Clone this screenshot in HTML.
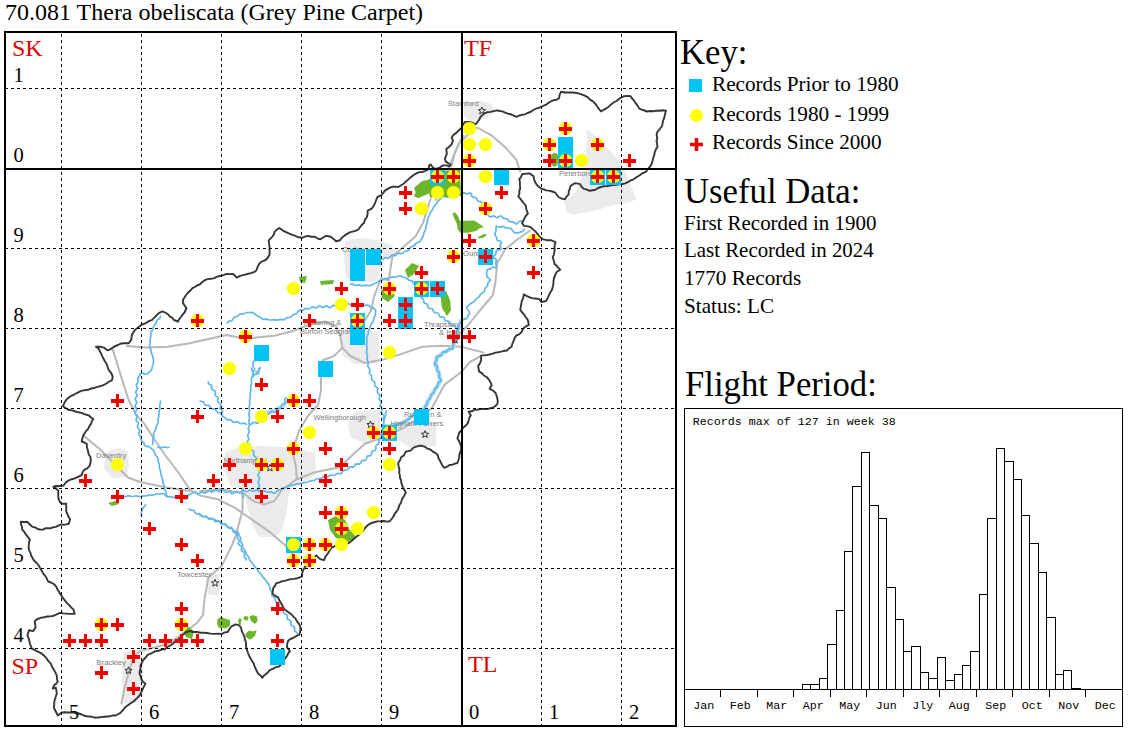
<!DOCTYPE html>
<html><head><meta charset="utf-8">
<style>
html,body{margin:0;padding:0;background:#fff;width:1130px;height:733px;overflow:hidden;}
body{position:relative;font-family:"Liberation Serif",serif;color:#000;}
.t{position:absolute;white-space:nowrap;line-height:1;}
.h{font-size:36px;transform:scaleX(0.964);transform-origin:0 0;}
.p{font-size:20.3px;transform:scaleX(1.045);transform-origin:0 0;}
svg{position:absolute;left:0;top:0;}
</style></head>
<body>
<svg width="1130" height="733" viewBox="0 0 1130 733">
<g fill="#ebebeb" stroke="none">
<path d="M464 103 L480 101 L492 104 L494 113 L484 119 L470 122 L464 115Z"/>
<path d="M587.5 129.6 L597.3 137.8 L610.4 150.9 L621.9 164 L626.8 175.5 L631.7 188.6 L636.6 198.4 L631.7 201.7 L613.7 205 L597.3 209.9 L572.7 214.8 L566.2 211.5 L564.6 201.7 L576 191.9 L580.9 178.8 L585.8 164 L586.7 142.7 L586.7 131.3Z"/>
<path d="M345 242 L352 239 L362 238 L378 240 L390 244 L395 249 L392 256 L383 262 L380 272 L376 281 L360 282 L346 278 L344 260Z"/>
<path d="M342 330 L360 327.7 L378 332 L380 350 L376 364 L355 364 L342 355Z"/>
<path d="M350 418 L356 411 L380 410 L381 440 L366 444 L350 437 L348 425Z"/>
<path d="M398 428 L410 423 L436 423 L436 446 L410 447 L398 440Z"/>
<path d="M225 452 L240 447 L262 446 L280 447 L300 449 L315 453 L316 474 L305 482 L290 490 L288 500 L286 515 L282 530 L276 537 L259 537 L252 525 L247 505 L244 490 L230 486 L225 470Z"/>
<path d="M106 452 L118 448 L128 452 L129 466 L126 477 L112 478 L104 468Z"/>
<path d="M206 576 L218 574 L222 585 L218 596 L208 594Z"/>
<path d="M124 652 L137 650 L144 662 L142 690 L136 703 L124 703 L122 680Z"/>
</g>
<g fill="none" stroke="#b8b8b8" stroke-width="2" stroke-linejoin="round" stroke-linecap="round">
<path d="M451.6 166.3 L454.4 153.9 L459.2 143.4 L466.8 135.8 L477.3 127.5 L492 135.7 L506.8 148.8 L516.4 160 L520.2 171.5"/>
<path d="M529.8 230.7 L516.4 240.2 L504.9 249.8 L497.3 263.1 L495.4 282.2 L493 295 L478.2 312.5 L470.6 322 L463.9 329.7 L455 338"/>
<path d="M126.9 345.9 L146.4 347.6 L167.7 346.8 L188.2 343.5 L226.4 334.9 L245.5 338.7 L274.1 335.8 L293.2 331 L310 324.4 L325 322 L336 326 L340.2 335.5 L342.3 347.8 L350.5 356 L364.8 363.1 L381.2 360.1 L401.6 353.9 L422.1 346.7 L442.6 345.7 L461 346.7 L483.9 352.6"/>
<path d="M112.7 349.4 L118 366.3 L123.4 384 L128.7 400 L135.8 414.2 L143.9 423.3 L154 438.9 L165 455 L178 472 L190 489.7 L200 495.6 L217.7 499.2 L235.5 508.1 L253.2 520.5 L271 532.9 L285.2 545.3 L292.3 554.2"/>
<path d="M84.3 436.3 L99.9 449.2 L112.8 462.2 L128.4 477.7 L140 482 L166.4 487.6 L190 491"/>
<path d="M242.6 488.6 L242.6 509.8 L235.5 536.5 L231.3 546.8 L221.7 565.9 L208.4 577.4 L204.6 598.4 L203 614.8 L197.3 622.5 L187.7 630.1 L168.6 643.5 L155.3 647.3 L140 651.1 L134 656 L130 668 L124 690 L121.5 703.5"/>
<path d="M299.4 430 L292.3 451.3 L295.8 465.5 L296.7 477.9"/>
<path d="M299.4 430 L308.4 415.3 L318 405 L321 390 L321 379.3 L322.9 360.2 L334.1 356 L342.3 347.8"/>
<path d="M200 491.2 L221 489 L244.4 493.9 L253.2 501 L263.9 504.5 L274.5 501 L281.6 490.3 L295.8 479.7 L313.6 472.6 L340 467.3 L353.7 453.7 L365 443.8 L380.6 438.1 L403.3 428.2 L431.6 408.4 L444.6 384.6 L461 372.3 L470 362 L481 356"/>
<path d="M430.8 198.2 L427 209.7 L423.1 223 L415.5 236.4 L400.2 249.8 L392.6 255.5 L390.7 267 L388.8 280.3 L381.2 278.2 L374 296.6 L370.9 310.9 L362 325"/>
<path d="M463.4 135.7 L458 145 L452 160 L444 178 L436 200"/>
</g>
<g fill="none" stroke="#b4def4" stroke-width="4.5" stroke-linejoin="round" stroke-linecap="round">
<path d="M383.5 426 L389.1 426.8 L396 425 L403.3 422.6 L410 418 L417.4 411.2 L422.1 413.3 L426.2 405.1 L430.3 396.9 L434.4 390.8 L440.5 380.5 L438.5 372.3 L435.4 364.1 L436.4 358 L444.6 351.9 L452.8 347.8 L454.8 341.6 L456.9 331.4 L461 321.2"/>
<path d="M268 412 L276 410 L284 405 L287 399"/>
</g>
<g fill="none" stroke="#62b6ea" stroke-width="1.7" stroke-linejoin="round" stroke-linecap="round">
<path d="M112.8 495.9 L114.4 495.3 L115.9 495.6 L117.5 496.4 L119.0 496.5 L120.6 495.8 L122.2 495.5 L123.7 496.1 L125.3 496.6 L126.9 496.3 L128.4 495.8 L130.0 496.0 L131.7 496.5 L133.3 496.5 L135.0 496.0 L136.6 495.9 L138.3 496.4 L139.9 496.5 L141.6 496.1 L143.3 495.8 L145.1 495.9 L146.8 495.8 L148.5 495.3 L150.2 495.0 L152.0 495.1 L153.5 495.0 L155.0 494.5 L156.5 494.1 L158.0 494.0 L159.6 494.0 L161.1 493.8 L162.6 493.3 L164.3 494.3 L165.6 495.7 L167.2 496.7 L168.8 496.5 L170.4 496.6 L171.9 497.1 L173.4 497.4 L174.9 497.2 L176.5 497.0 L178.0 497.4 L179.4 498.2 L180.9 498.4 L182.6 498.2 L184.1 498.3 L185.5 499.2 L187.0 498.4 L187.7 497.0 L188.3 495.4 L189.5 494.5 L191.2 493.9 L192.3 492.9 L193.5 492.3 L195.2 492.0 L196.7 493.0 L198.3 493.7 L200.0 493.0 L201.5 491.9 L203.3 492.4 L205.1 493.1 L206.7 492.2 L208.2 490.9 L210.0 491.2 L211.7 492.2 L213.3 491.6 L214.8 490.2 L216.4 490.1 L218.1 491.3 L219.8 491.3 L221.3 489.8 L223.1 489.8 L224.3 491.2 L225.6 492.4 L227.4 492.0 L229.2 491.3 L230.6 492.2 L231.8 493.8 L233.6 493.4 L234.9 492.0 L236.4 491.4 L238.1 492.1 L239.7 492.6 L241.1 491.6 L242.5 490.4 L244.3 490.8 L246.1 491.7 L247.8 491.2 L249.5 490.0 L251.2 490.3 L253.0 491.1 L254.5 491.0 L256.1 490.2 L257.7 490.3 L259.2 491.2 L260.8 491.6 L262.3 491.0 L263.9 490.7 L265.4 491.3 L266.9 492.1 L268.4 492.2 L270.0 492.0 L271.5 492.1 L273.0 492.9 L274.4 493.3 L275.9 492.1 L277.2 491.0 L278.8 490.3 L280.3 489.7 L281.6 488.6 L283.1 487.9 L284.6 487.5 L286.2 487.2 L287.8 486.7 L289.2 485.9 L290.7 485.4 L292.3 485.1 L293.9 484.9 L295.4 484.4 L297.0 483.9 L298.6 483.8 L300.2 483.7 L301.8 483.3 L303.3 482.7 L304.9 482.5 L306.5 482.5 L308.0 482.1 L309.4 481.3 L310.8 480.7 L312.4 480.6 L314.0 480.4 L315.4 479.7 L316.7 478.9 L318.2 478.5 L319.9 478.6 L321.4 478.3 L322.7 477.3 L324.1 476.5 L325.8 476.7 L327.5 476.9 L329.0 476.0 L330.4 475.0 L332.0 475.0 L333.8 475.5 L335.3 475.0 L336.7 473.7 L338.3 473.3 L340.1 473.9 L341.7 473.3 L342.5 471.6 L343.5 470.3 L345.3 470.1 L347.1 470.0 L348.3 468.8 L349.4 467.0 L351.2 466.9 L353.2 467.3 L354.6 466.0 L355.6 464.2 L357.3 463.8 L359.5 464.1 L360.8 462.8 L361.6 460.8 L363.4 460.4 L365.5 460.3 L366.5 458.8 L366.9 456.7 L368.4 455.8 L370.6 455.6 L371.5 453.9 L371.9 451.7 L373.6 450.7 L375.6 450.1 L375.9 448.2 L375.7 446.3 L376.7 445.0 L378.3 444.1 L379.0 442.6 L378.9 440.8 L379.3 439.2 L380.8 438.2 L381.5 436.7 L381.2 435.0 L380.9 433.3 L381.6 431.9 L382.5 430.4 L382.7 428.9 L382.3 427.2 L382.5 425.6 L383.4 424.2 L383.9 422.7 L383.8 421.0 L383.9 419.3 L384.7 417.7 L385.4 416.2 L385.5 414.5 L385.6 412.8 L386.3 411.2 L385.7 412.6 L385.5 414.1 L385.4 415.6 L385.1 417.1 L384.5 418.5 L384.2 420.0"/>
<path d="M383.5 426.0 L385.4 425.9 L387.2 426.8 L389.1 427.1 L390.8 426.1 L392.5 425.7 L394.3 425.7 L396.0 425.2 L397.4 424.4 L398.9 423.8 L400.4 423.6 L401.9 423.3 L403.3 422.6 L404.5 421.5 L405.9 420.7 L407.4 420.0 L408.7 419.0 L409.9 417.9 L411.1 416.8 L412.6 415.8 L413.8 414.7 L414.8 413.4 L416.0 412.2 L417.5 411.3 L418.9 412.1 L420.6 412.5 L422.2 413.1 L422.8 412.0 L423.8 410.7 L424.2 409.2 L424.5 407.7 L425.3 406.4 L426.5 405.2 L427.2 403.9 L427.4 402.3 L427.8 400.8 L428.9 399.6 L430.1 398.5 L430.5 397.0 L430.8 395.1 L432.2 393.8 L433.9 392.7 L434.5 390.8 L434.6 389.0 L436.0 387.8 L437.7 386.8 L438.0 385.0 L438.1 383.0 L439.4 381.8 L441.2 380.9 L440.4 378.8 L438.9 377.4 L438.9 375.7 L439.7 373.7 L439.0 372.2 L437.1 370.9 L436.7 369.2 L437.4 367.1 L436.6 365.5 L434.6 364.4 L435.0 362.5 L436.5 361.1 L437.0 359.7 L436.2 358.0 L437.2 356.2 L439.2 356.1 L441.1 355.7 L441.8 353.9 L442.7 352.2 L444.6 351.9 L446.4 352.0 L447.5 350.9 L448.4 349.2 L449.8 348.6 L451.6 348.9 L453.1 348.5 L453.1 346.2 L453.1 344.5 L454.3 343.2 L455.5 341.8 L455.2 339.9 L454.9 338.1 L455.8 336.5 L456.8 334.9 L456.6 333.1 L456.4 331.3 L457.3 329.9 L458.4 328.6 L458.9 327.1 L459.0 325.5 L459.5 324.0 L460.6 322.7 L461.3 321.3 L462.4 320.4 L463.7 319.4 L465.3 318.9 L466.8 318.4 L467.7 316.6 L468.4 314.9 L469.6 313.4 L469.1 311.6 L468.1 310.1 L467.2 308.5 L466.8 306.7 L468.1 305.9 L469.3 304.8 L470.4 303.7 L471.8 302.9 L473.2 302.1 L474.5 301.1 L475.4 299.7 L476.7 298.5 L478.1 297.6 L479.3 296.4 L480.2 294.9 L481.4 293.7 L482.9 292.8 L484.1 291.7 L484.5 290.0 L485.1 288.4 L486.3 287.2 L487.4 286.0 L487.7 284.3 L488.0 282.6 L489.2 281.4 L490.5 280.3 L489.1 278.4 L487.4 277.4 L486.8 275.6 L486.5 273.7 L486.8 272.9 L486.7 271.1 L487.4 269.8 L489.0 268.9 L490.5 269.0 L492.0 267.5 L493.6 267.0 L495.6 267.8 L496.6 265.7 L495.7 263.5 L496.2 261.8 L496.5 260.1 L495.6 258.8 L493.6 258.1 L493.9 255.8 L495.8 254.3 L496.0 252.4 L496.4 250.6 L497.8 249.8 L500.0 249.8 L501.3 248.8 L500.2 246.4 L500.3 244.6 L501.7 242.8 L500.3 241.2 L498.4 240.9 L497.1 240.1 L496.7 238.3 L496.1 236.7 L495.6 235.7 L494.7 234.0 L495.3 232.4 L496.2 230.7 L495.9 229.1 L496.3 226.2 L498.6 227.0 L500.4 227.2 L502.2 226.4 L504.0 226.6 L505.5 227.8 L507.0 228.3 L508.7 228.1 L510.4 228.3 L511.8 229.2 L512.4 230.7 L513.7 231.8 L514.9 233.0 L516.2 232.9 L517.9 232.9 L519.5 232.4 L521.1 231.8 L522.8 231.7 L524.1 229.1"/>
<path d="M521.4 220.9 L519.9 221.3 L518.5 222.0 L517.4 223.2 L516.1 224.1 L514.3 222.8 L512.7 221.8 L510.7 221.9 L508.9 221.4 L507.9 219.8 L506.7 218.7 L504.9 218.6 L503.3 218.3 L502.3 216.8 L500.7 216.0 L499.1 216.5 L497.5 217.6 L495.9 217.3 L494.3 216.1 L492.7 216.1 L490.8 216.9 L489.1 216.5 L487.8 214.7 L486.1 214.1 L484.8 213.6 L483.9 212.3 L484.4 210.4 L484.4 208.6 L482.9 207.6 L481.4 206.5 L481.4 204.8 L481.9 202.9 L481.1 201.5 L478.7 201.4 L477.3 200.5 L476.7 198.5 L475.4 197.4 L473.4 197.5 L471.7 196.2 L471.3 193.9 L469.8 192.7 L467.9 193.8 L466.1 193.8 L464.3 192.8 L462.7 193.1 L461.2 194.5 L459.7 195.0 L457.8 194.5 L456.2 194.7 L454.8 195.9 L453.3 196.7 L451.6 196.5 L449.9 196.5 L448.4 196.8 L446.8 197.2 L445.3 196.8 L443.8 196.1 L442.2 196.0 L441.4 197.6 L440.6 198.9 L439.3 199.8 L438.1 200.8 L437.4 202.2 L436.7 203.6 L435.7 204.7 L434.5 205.7 L433.6 207.1 L433.1 208.6 L432.3 210.0 L431.3 211.3 L430.3 212.6 L429.7 214.0 L429.1 215.5 L428.6 216.9 L428.0 218.4 L427.6 220.0 L427.5 221.6 L427.1 223.1 L426.5 224.6 L426.0 226.1 L425.8 227.6 L425.6 229.2 L425.1 230.7 L424.1 232.2 L423.7 233.8 L423.4 235.6 L422.6 237.1 L421.5 238.5 L421.0 240.1 L420.0 241.5 L418.6 242.3 L416.9 242.8 L415.5 243.8 L414.6 245.3 L413.2 246.3 L411.6 246.7 L410.3 247.4 L409.5 248.9 L408.7 250.3 L407.2 250.9 L405.5 251.2 L404.2 251.7 L402.9 253.2 L401.4 253.7 L399.5 253.1 L397.9 253.3 L396.6 254.8 L395.2 255.8 L393.5 255.4 L391.7 255.2 L390.4 256.5 L389.3 258.0 L387.6 258.1 L385.7 257.5 L384.3 258.1 L383.0 259.3"/>
<path d="M227.4 323.2 L228.2 321.8 L229.6 321.1 L231.3 320.8 L232.5 320.0 L233.4 318.5 L234.3 317.3 L235.8 316.8 L237.4 316.3 L238.4 315.2 L239.9 314.2 L241.6 313.8 L243.4 313.8 L245.1 313.2 L246.7 312.5 L248.5 312.5 L250.3 312.7 L252.0 312.4 L253.5 313.0 L254.8 313.9 L256.0 315.0 L257.4 315.9 L258.9 316.5 L260.3 317.2 L261.5 318.3 L262.8 319.3 L264.4 319.3 L266.0 319.2 L267.5 319.4 L269.0 319.8 L270.5 320.0 L272.0 319.9 L273.7 319.7 L275.3 319.9 L277.0 320.1 L278.7 319.7 L280.3 319.4 L282.0 319.6 L283.7 319.9 L285.1 319.1 L286.3 318.1 L287.7 317.5 L289.3 317.4 L290.8 317.0 L292.0 315.9 L293.0 314.7 L294.6 314.1 L296.3 313.7 L297.4 312.5 L298.3 311.0 L299.8 310.2 L301.8 310.6 L303.4 310.1 L304.9 308.7 L306.6 308.4 L308.5 309.0 L310.1 308.5 L311.4 307.3 L312.9 306.8 L314.6 307.6 L316.2 308.0 L317.6 307.0 L319.0 305.8 L320.7 306.3 L322.2 307.5 L323.8 307.5 L325.3 306.2 L326.9 305.9 L328.4 307.0 L330.0 307.8 L331.7 306.5 L333.2 305.2 L335.0 305.8 L336.8 306.6 L338.4 305.5 L339.8 304.1 L341.4 304.4 L343.1 305.4 L344.6 305.2 L346.0 303.9 L347.4 303.3 L349.0 304.0 L350.6 304.7 L352.0 304.2 L353.6 303.3 L355.1 303.5 L356.6 304.6 L358.1 305.0 L359.7 304.3 L361.3 303.8 L362.7 304.5 L364.2 305.3 L365.8 305.2 L367.4 305.0 L368.9 305.6 L370.0 306.9 L371.4 307.8 L373.0 307.8 L374.8 309.1 L375.8 311.1 L375.3 312.5 L375.5 314.2 L375.1 315.9 L374.2 317.4 L373.7 319.0 L373.4 320.5 L372.9 322.0 L372.0 323.2 L371.0 324.5 L370.5 325.9 L370.1 327.4 L369.6 328.8 L368.9 330.2 L368.4 331.6 L368.2 333.1 L367.9 334.6 L367.3 336.1 L366.6 337.4 L366.7 339.1 L366.9 340.7 L367.0 342.3 L366.7 343.9 L366.6 345.5 L366.9 347.1 L367.1 348.7 L366.8 350.3 L366.5 351.9 L366.8 353.4 L367.4 354.9 L367.4 356.5 L367.1 358.0 L367.1 359.6 L367.7 361.0 L368.2 362.5 L368.0 364.1 L367.8 365.7 L368.4 367.2 L369.5 368.6 L369.8 370.2 L369.4 371.9 L369.6 373.5 L370.8 374.8 L371.5 376.2 L371.6 377.8 L371.6 379.5 L372.7 380.6 L374.2 381.6 L374.8 383.0 L374.6 384.8 L375.0 386.3 L376.6 387.2 L377.9 388.3 L377.7 390.1 L377.1 391.9 L377.9 393.2 L379.4 394.3 L380.0 395.8 L379.4 397.5 L379.2 399.2 L380.4 400.6 L381.5 402.2 L380.6 404.1 L379.8 405.9 L381.1 407.5 L382.2 409.1 L381.7 410.7 L381.1 412.5 L382.1 413.9 L383.7 415.1 L383.9 416.8 L383.1 418.6 L384.2 420.0"/>
<path d="M350.5 284.3 L352.2 284.0 L353.7 284.6 L355.2 285.4 L356.8 285.3 L358.5 284.9 L360.0 285.2 L361.6 285.7 L363.1 285.8 L364.7 285.4 L366.2 285.1 L367.8 285.4 L369.3 285.7 L370.9 285.5 L372.3 284.5 L373.8 283.8 L375.4 283.3 L376.9 282.6 L378.2 281.6 L379.7 280.8 L381.2 280.3 L382.7 280.0 L384.1 279.3 L385.5 278.7 L387.0 278.4 L388.5 278.2 L390.0 277.8 L391.4 277.1 L393.1 276.8 L394.8 277.0 L396.5 276.9 L398.2 276.3 L399.9 276.0 L401.6 276.2 L402.9 277.1 L404.6 277.5 L406.2 278.0 L407.5 279.1 L408.8 280.2 L410.4 280.6 L412.1 280.9 L413.1 282.4 L413.6 284.0 L414.7 285.1 L416.2 285.8 L417.4 286.9 L417.8 288.5 L418.0 290.1 L419.2 291.3 L420.4 292.5 L420.5 294.2 L420.3 296.0 L421.1 297.4 L422.7 298.5 L423.6 299.7 L423.7 301.8 L424.6 303.2 L426.6 303.8 L427.8 305.0 L427.8 307.1 L429.1 308.5 L431.2 308.5 L432.8 309.2 L433.4 311.2 L434.5 312.7 L436.6 312.7 L438.3 313.2 L439.0 315.2 L439.9 316.8 L442.0 316.9 L443.8 317.3 L444.6 319.2 L445.4 320.9 L447.3 321.2 L449.3 321.5 L450.1 323.2 L450.9 325.0 L452.7 325.4 L454.8 325.6 L455.8 327.4 L456.9 329.0 L458.9 329.4"/>
<path d="M254.7 368.3 L254.5 370.0 L253.5 371.5 L252.8 373.1 L252.7 374.9 L252.2 376.6 L251.8 378.0 L251.4 379.5 L251.5 381.0 L251.6 382.6 L251.3 384.1 L250.9 385.6 L250.7 387.1 L250.8 388.6 L250.8 390.1 L250.5 391.7 L250.2 393.3 L250.2 394.9 L250.3 396.5 L250.1 398.1 L249.7 399.6 L249.6 401.2 L249.8 402.8 L249.8 404.4 L249.3 406.0 L249.0 407.6 L249.2 409.2 L249.5 410.7 L249.3 412.2 L248.9 413.8 L248.9 415.3 L249.4 416.8 L249.6 418.3 L249.1 419.9 L248.7 421.4 L249.1 422.9 L249.6 424.5 L249.3 426.1 L248.4 427.6 L248.3 429.2 L249.1 430.9 L249.1 432.5 L248.2 434.0 L247.6 435.6 L248.3 437.2 L248.9 438.9 L248.1 440.4 L247.1 441.9 L248.2 443.5 L249.9 444.4 L250.6 445.8 L250.3 447.6 L250.5 449.2 L252.0 450.1 L253.5 451.1 L253.7 452.7 L253.3 454.6 L254.1 455.9 L255.7 457.0 L256.5 458.4 L255.7 460.3 L255.6 462.0 L257.0 463.2 L258.4 464.4 L258.1 466.2 L257.5 468.0 L258.3 469.4 L259.5 470.9 L259.5 472.4 L258.3 474.0 L257.9 475.5 L259.0 477.1 L259.7 478.6 L258.9 480.2 L258.0 481.8 L258.4 483.3 L259.4 484.9 L259.4 486.4 L258.4 488.0 L258.1 489.5 L258.8 491.1"/>
<path d="M260.2 368.3 L258.6 369.3 L258.0 371.5 L256.0 372.0"/>
<path d="M160.5 316.4 L160.0 318.0 L158.8 319.0 L157.4 319.9 L156.6 321.3 L156.2 322.9 L155.3 324.2 L154.2 325.4 L153.4 326.8 L153.1 328.4 L152.6 330.0 L151.7 331.3 L150.7 332.7 L150.8 334.3 L150.9 335.8 L150.7 337.3 L150.2 338.8 L150.0 340.3 L150.1 341.9 L150.1 343.4 L149.8 344.9 L149.4 346.4 L150.0 348.0 L150.7 349.4 L151.1 350.9 L151.3 352.5 L151.7 354.1 L152.4 355.5 L153.0 357.0 L153.2 358.6 L153.5 360.2 L153.4 361.7 L153.4 363.4 L153.0 365.0 L152.3 366.6 L152.1 368.3 L151.5 369.8 L150.4 371.1 L149.0 372.1 L148.0 373.5 L146.6 374.0 L144.9 374.1 L143.3 373.4 L141.6 373.2 L140.0 373.9 L140.0 375.5 L138.7 376.9 L137.8 378.4 L138.0 380.3 L138.0 382.1 L137.1 383.5 L136.3 385.0 L136.8 386.7 L137.6 388.3 L137.1 389.9 L135.9 391.4 L135.9 393.0 L137.0 394.7 L137.0 396.3 L135.7 397.8 L135.1 399.3 L136.1 401.0 L136.9 402.5 L136.1 404.0 L135.0 405.6 L135.3 407.1 L136.6 408.6 L136.8 410.1 L135.6 411.7 L134.9 413.2 L135.8 414.7 L137.1 416.1 L136.9 417.7 L136.0 419.5 L136.5 421.0 L138.0 422.4 L138.4 423.9 L137.6 425.7 L137.4 427.3 L138.6 428.7 L139.7 430.1 L139.3 431.8 L138.7 433.5 L139.4 435.0 L140.6 436.4 L141.2 437.6 L141.0 439.4 L141.5 440.9 L142.8 441.9 L144.0 443.1 L144.2 444.6 L145.2 445.8 L146.7 446.4 L148.4 446.4 L149.8 447.1 L150.9 448.3 L152.1 449.2 L153.1 450.2 L154.2 451.4 L154.8 452.9 L155.2 454.4 L156.1 455.8 L157.2 456.9 L158.0 458.3 L158.0 459.9 L158.2 461.5 L158.7 462.9 L159.2 464.4 L159.4 465.9 L159.4 467.5 L159.8 469.0 L160.3 470.5 L160.7 472.0 L160.8 473.5 L161.1 475.0 L161.6 476.5 L162.2 477.9 L162.5 479.4 L162.6 481.0 L162.9 482.5 L163.6 483.9 L164.1 485.4 L164.2 486.9 L164.3 488.5 L165.1 490.0 L166.0 491.6 L166.2 493.3 L166.4 495.1 L167.3 496.6"/>
<path d="M160.5 401.0 L160.5 402.6 L160.0 404.1 L159.7 405.7 L159.8 407.3 L159.8 408.9 L159.4 410.4 L158.9 411.9 L158.9 413.5 L158.9 415.1 L158.7 416.7 L158.3 418.2 L158.0 419.8 L158.1 421.3 L158.0 422.9 L157.2 424.4 L156.4 425.9 L156.0 427.6 L155.7 429.2 L154.9 430.7 L154.0 432.1 L153.6 433.8 L153.8 435.4 L153.5 436.9 L152.9 438.4 L152.6 440.0 L152.9 441.6 L152.9 443.2 L152.3 444.7"/>
<path d="M157.8 447.4 L159.4 447.4 L160.9 447.6 L162.5 447.5 L164.0 447.2 L165.6 447.2 L167.1 447.6 L168.7 447.4"/>
<path d="M208.3 381.9 L208.5 383.7 L210.2 384.5 L211.6 385.5 L211.6 387.4 L211.8 389.2 L213.3 390.2 L215.0 391.0 L215.5 392.6 L214.9 394.6 L215.8 396.1 L217.6 397.1 L218.2 398.6 L217.6 400.6 L218.0 402.3 L219.8 403.3 L220.9 404.6 L220.4 406.6 L220.0 408.3 L221.4 409.6 L222.7 410.9 L222.4 412.7 L221.7 414.5 L222.5 416.0 L224.0 417.2 L225.1 417.6 L226.2 419.4 L227.9 419.9 L229.9 419.6 L231.5 420.3 L232.7 422.0 L234.3 422.4 L236.0 421.8 L237.6 421.8 L238.9 422.8 L240.3 423.6 L241.9 423.5 L243.6 423.1 L245.1 423.6 L246.5 424.2"/>
<path d="M200.1 401.0 L201.6 401.7 L203.3 401.8 L204.2 403.4 L205.1 405.1 L206.8 405.4 L208.7 405.2 L210.0 406.3 L210.7 408.1 L212.1 408.9 L214.0 408.9 L215.6 409.6 L216.5 411.4 L217.8 412.6 L219.7 412.8 L221.0 414.0"/>
<path d="M189.3 508.6 L190.3 510.1 L192.1 510.1 L193.8 510.3 L194.7 511.9 L195.6 513.5 L197.3 513.8 L199.2 513.7 L200.5 514.5 L201.6 516.3 L203.2 516.7 L205.1 516.1 L206.7 516.5 L207.8 518.3 L209.2 519.3 L211.1 518.7 L212.9 518.6 L214.1 520.2 L215.2 521.6 L217.0 521.5 L218.9 521.1 L220.2 522.3 L221.2 524.0 L222.8 524.4 L224.8 523.9 L226.3 524.5 L227.3 526.2 L228.3 527.3 L230.1 527.4 L231.8 527.7 L232.7 529.1 L233.4 530.7 L234.9 531.3 L236.6 531.4 L238.0 532.2 L238.8 533.7 L238.7 535.1 L239.7 536.5 L240.7 537.8 L240.8 539.4 L240.6 541.0 L241.1 542.5 L242.1 543.8 L242.7 545.2 L242.6 546.8 L243.1 548.3 L244.1 549.5 L245.2 550.7 L245.8 552.1 L246.2 553.6 L246.9 555.0 L247.9 556.1 L248.8 557.4 L249.3 558.9 L249.8 560.3 L251.1 561.8 L252.4 563.2 L253.4 564.9 L254.2 566.2 L255.3 567.3 L256.4 568.4 L257.3 569.6 L258.0 571.0 L259.0 572.2 L260.1 573.2 L261.2 574.4 L261.9 575.7 L262.7 577.0 L263.8 578.1 L265.0 579.1 L265.9 580.3 L266.6 581.7 L267.4 583.0 L268.7 584.0 L269.4 585.3 L269.7 586.8 L269.7 588.4 L270.3 589.8 L271.3 591.1 L271.9 592.5 L271.9 594.1 L272.0 595.7 L273.3 596.8 L274.7 597.7 L275.3 599.2 L275.5 600.9 L276.3 602.2 L277.8 603.0 L279.0 604.1 L279.2 605.8 L279.5 607.4 L280.9 608.4 L282.6 609.1 L283.3 610.5 L283.4 612.5 L284.3 613.7 L286.2 614.3 L287.3 615.5 L287.2 617.5 L287.5 619.2 L289.1 620.0 L290.8 620.9 L291.0 622.6 L290.8 624.6 L292.0 625.7 L293.9 626.5 L294.7 627.8 L294.4 629.9 L294.9 631.4 L296.7 632.2 L297.3 633.7"/>
<path d="M200.0 515.2 L201.5 515.7 L202.9 516.3 L204.4 516.6 L206.0 516.7 L207.4 517.3 L208.8 518.1 L210.2 518.6 L211.8 518.6 L213.4 518.8 L214.7 519.6 L216.1 520.5 L217.7 520.6 L219.2 521.0 L220.5 521.8 L221.4 523.2 L222.6 524.2 L224.2 524.4 L225.8 524.8 L226.8 526.1 L227.7 527.5 L229.1 528.1 L230.9 528.2 L232.2 528.9 L232.8 530.7 L233.5 532.1 L235.1 532.6 L236.8 533.1 L237.6 534.4 L236.9 536.3 L237.2 537.8 L238.5 539.1 L239.3 540.5 L238.7 542.1 L238.1 543.8 L239.6 545.2 L241.4 546.2 L241.6 548.0 L241.3 550.1 L242.5 551.4 L244.4 552.3 L244.8 554.0 L244.1 555.8 L244.4 557.3 L246.0 558.4 L246.0 560.0"/>
<path d="M242.6 491.2 L242.9 492.7 L242.9 494.3 L243.1 495.9 L243.5 497.4"/>
<path d="M249.0 424.0 L250.7 424.4 L252.1 423.5 L253.5 422.4 L255.1 422.5 L256.8 423.3 L258.3 422.9 L259.0 420.7 L260.0 419.5 L262.1 419.1 L263.5 418.2 L263.8 416.2 L264.6 414.6 L266.5 414.2 L268.3 414.5 L269.6 413.0 L270.9 411.6 L272.8 412.0 L274.7 412.5 L276.0 411.1 L276.5 409.3 L277.9 408.6 L279.9 408.5 L281.1 407.6 L281.5 405.7 L282.2 404.3 L284.0 404.0 L285.4 402.8 L285.3 401.1 L284.7 399.2 L286.0 398.0"/>
<path d="M254.0 361.0 L253.0 362.5 L253.0 364.2 L253.4 365.9 L252.7 367.5 L251.4 368.9 L252.0 370.8 L253.3 372.4 L253.4 374.2 L253.4 376.0"/>
<path d="M260.2 367.7 L259.0 369.3 L258.9 371.4 L258.7 373.4 L256.5 373.9 L254.8 374.5 L253.5 376.0"/>
<path d="M145.4 504.8 L144.6 506.3 L143.3 507.5 L142.4 509.0 L141.7 510.6 L141.7 512.0 L141.3 513.5 L141.3 515.0"/>
</g>
<g fill="#6db52b" stroke="none">
<path d="M452.5 213 L455 212.5 L458 216 L460 221 L466 220.7 L474 220.5 L479.8 224 L484 227.3 L479.8 228 L476 231 L468 232.7 L460 232.5 L457.5 229 L457 224 L454 218Z"/>
<path d="M478 237 L484 234 L487 234.5 L484 237.5 L479 238.5Z"/>
<path d="M414 188 L422 181 L432 179 L435 186 L428 194 L418 198Z"/>
<path d="M440 292 L446 291 L450 300 L451 310 L447 316 L442 308Z"/>
<path d="M405 270 L412 263 L419 266 L414 274 L408 278Z"/>
<path d="M381 290 L390 288 L395 296 L388 302 L382 298Z"/>
<path d="M328 520 L338 515 L345 520 L350 530 L356 537 L348 542 L336 538 L330 530Z"/>
<path d="M217.5 619 L221 616.8 L225 618.5 L230 620 L230 626 L226 628.3 L219 628 L217 624Z"/>
<path d="M238.1 620 L240 617.7 L241.7 620 L240.5 624.8 L238.5 624Z"/>
<path d="M243.5 617 L246 615.9 L248.8 617 L247.5 620.4 L244 620Z"/>
<path d="M249.6 616.5 L253 615 L257 616.5 L257.6 621 L255 623.9 L251 621Z"/>
<path d="M245.2 634 L249 630.5 L253 631.5 L256.7 630 L255 636 L250 639.8 L246 637Z"/>
<path d="M183.3 632 L188 626.5 L193.9 631 L192 638.9 L186 637Z"/>
<path d="M108 503 L116 501 L119 504 L112 506Z"/>
<path d="M550.5 156 L554 152.5 L557.5 154 L558.5 159.5 L557.5 165 L554 167 L550.5 164Z"/>
<path d="M413.6 196 L416 192 L421 188 L426 183 L429 179 L432 180 L434 186 L430 191 L424 195 L418 198Z"/>
<path d="M445 171 L460 170 L461 196 L444 197 L430 197 L428 188 L436 184 L444 178Z"/>
<path d="M299 277 L307 276 L305 283 L300 282Z"/>
<path d="M320 281 L334 280 L333 284 L321 285Z"/>
<path d="M277 655 L285 650 L283 660Z"/>
</g>
<path d="M446.3 149.1 L448.7 147.2 L451.6 144.4 L453.0 140.5 L451.6 137.7 L453.5 134.8 L456.3 132.9 L459.2 130.0 L461.1 128.6 L462.8 125.2 L464.9 121.9 L468.7 121.9 L472.2 122.7 L475.4 124.3 L477.3 122.4 L479.1 119.7 L480.6 116.8 L483.9 113.6 L487.0 112.3 L490.4 111.9 L493.7 111.1 L497.0 110.3 L499.7 111.0 L502.5 111.4 L505.1 112.7 L508.0 113.7 L511.0 114.3 L513.7 115.7 L516.6 116.8 L519.2 115.5 L521.9 114.8 L524.8 114.4 L527.5 113.0 L530.4 112.0 L533.0 110.3 L535.6 108.8 L538.4 107.8 L541.2 107.0 L543.7 105.7 L546.3 104.6 L548.6 102.8 L551.0 101.3 L553.7 100.1 L556.6 99.7 L559.1 98.1 L559.6 94.8 L561.0 91.8 L564.8 92.5 L568.6 92.4 L571.8 92.5 L575.0 92.7 L578.2 93.4 L581.5 94.3 L584.6 95.7 L587.7 97.2 L590.0 99.7 L593.1 101.4 L595.4 103.9 L597.2 106.5 L599.1 109.1 L601.1 111.5 L603.6 109.8 L606.3 108.3 L608.8 106.7 L611.0 104.4 L613.6 102.5 L616.4 101.0 L620.2 98.1 L624.0 96.2 L627.4 95.9 L630.7 96.2 L632.1 98.5 L634.0 100.6 L635.5 102.9 L637.6 105.6 L639.3 108.6 L641.8 109.7 L644.5 110.5 L647.0 111.5 L650.1 111.0 L653.4 111.2 L656.5 110.6 L659.7 110.8 L662.8 110.3 L666.0 110.6 L665.3 113.1 L664.7 115.7 L664.1 118.2 L663.1 120.6 L662.6 123.2 L662.2 125.8 L660.0 128.8 L657.5 131.6 L656.6 134.7 L657.3 138.0 L656.5 141.1 L657.1 143.9 L657.5 146.8 L655.8 149.6 L654.6 152.6 L654.3 155.2 L653.3 157.7 L652.7 160.2 L651.7 163.8 L649.8 166.9 L647.8 169.2 L646.0 171.7 L642.5 173.3 L639.3 175.5 L636.4 177.3 L633.6 179.3 L630.6 180.4 L627.9 182.2 L625.1 183.3 L622.1 184.1 L619.2 184.2 L616.4 184.7 L613.3 185.1 L610.3 185.5 L607.2 186.1 L604.1 186.2 L601.1 187.0 L598.0 188.0 L595.4 189.8 L592.6 190.3 L589.7 190.8 L586.9 189.7 L583.9 188.9 L581.6 186.8 L580.1 184.1 L575.3 183.1 L572.8 184.4 L570.6 186.0 L569.8 188.8 L568.7 191.6 L568.6 194.6 L566.4 196.8 L564.8 199.4 L561.9 198.7 L559.1 197.5 L557.1 195.2 L555.3 192.7 L552.2 191.5 L548.9 190.6 L546.2 190.4 L543.8 189.3 L541.2 188.6 L539.0 187.0 L537.1 185.1 L535.5 182.9 L534.1 179.7 L533.6 176.2 L529.8 173.4 L525.9 173.6 L522.1 174.3 L521.1 176.9 L519.3 179.1 L519.9 182.2 L520.0 185.4 L520.2 188.6 L519.2 191.1 L519.4 193.8 L518.3 196.3 L520.2 198.7 L522.1 201.1 L524.0 203.5 L525.9 205.8 L526.2 208.5 L526.9 211.0 L527.9 213.5 L525.6 216.1 L524.0 219.2 L522.1 223.0 L524.0 225.9 L526.9 226.1 L529.8 226.8 L532.7 229.1 L535.5 231.6 L537.5 233.9 L539.3 236.4 L543.1 239.3 L546.9 240.2 L550.8 240.2 L555.5 242.1 L554.5 245.9 L554.6 249.8 L554.3 252.4 L553.7 255.0 L552.7 257.4 L553.9 260.7 L554.6 264.1 L556.7 265.8 L558.4 267.9 L560.3 269.8 L556.5 272.0 L555.3 275.0 L554.0 278.0 L553.5 281.0 L553.4 284.0 L552.7 287.0 L551.9 290.0 L550.2 292.6 L548.9 295.3 L547.6 298.2 L546.0 301.0 L541.2 302.0 L539.3 299.1 L535.5 298.5 L531.7 298.1 L526.9 296.2 L524.0 294.3 L523.1 298.1 L521.7 301.3 L521.2 304.8 L520.2 309.6 L521.9 312.1 L524.0 314.4 L525.9 317.3 L527.9 320.1 L528.8 324.9 L526.3 326.2 L524.0 327.7 L522.4 330.0 L521.2 332.5 L519.1 334.4 L516.4 335.4 L514.6 338.1 L513.5 341.1 L512.3 343.9 L511.6 346.8 L508.9 348.4 L506.8 350.7 L503.9 350.8 L501.1 351.6 L498.3 352.2 L495.4 352.6 L492.6 353.7 L489.7 354.5 L484.9 355.4 L481.1 355.4 L481.1 360.2 L480.0 363.2 L478.2 365.9 L478.6 368.8 L479.2 371.7 L481.9 373.2 L483.9 375.5 L486.6 377.0 L488.7 379.3 L490.4 382.0 L491.6 385.0 L489.7 388.9 L492.8 390.5 L495.4 392.7 L496.5 395.5 L497.3 398.4 L497.8 401.2 L497.3 404.1 L494.8 406.5 L491.6 408.0 L488.4 408.7 L485.2 409.0 L482.0 408.9 L478.2 409.5 L474.4 409.9 L471.7 411.3 L468.6 411.8 L470.8 415.3 L469.4 417.7 L468.7 420.3 L467.9 422.9 L465.8 425.6 L463.1 427.7 L461.4 430.3 L459.3 432.5 L458.5 435.4 L457.4 438.2 L459.0 441.0 L460.3 443.9 L461.2 446.7 L461.2 449.7 L460.2 452.1 L459.4 454.6 L459.3 457.3 L458.4 460.2 L457.4 463.0 L454.9 463.7 L452.4 464.7 L449.8 464.9 L447.1 466.7 L444.0 467.8 L441.9 464.5 L440.2 461.1 L438.7 458.7 L438.0 455.9 L436.4 453.5 L433.3 451.9 L430.7 449.7 L427.6 448.7 L424.9 446.8 L422.1 445.8 L419.2 445.8 L416.3 446.7 L413.5 447.7 L410.6 450.6 L405.8 451.6 L403.9 455.4 L401.1 457.3 L400.0 460.3 L398.2 463.0 L398.5 466.2 L399.4 469.3 L399.2 472.6 L399.8 475.1 L400.0 477.8 L401.1 480.2 L401.3 482.9 L402.2 485.4 L403.0 487.9 L404.6 490.1 L405.8 492.6 L404.0 496.0 L402.0 499.3 L401.1 502.6 L399.2 505.6 L398.2 508.9 L396.6 511.4 L394.7 513.8 L393.4 516.5 L391.6 519.0 L389.6 521.3 L386.7 521.6 L383.9 521.0 L381.0 521.3 L377.1 521.4 L373.4 522.5 L370.5 523.4 L368.0 525.0 L366.1 526.8 L364.4 528.8 L363.0 531.0 L360.7 532.6 L359.0 534.8 L356.7 536.4 L354.6 538.2 L352.2 540.2 L349.8 542.4 L347.0 543.9 L344.2 544.9 L341.3 545.1 L338.4 545.6 L335.5 545.8 L331.7 547.7 L329.6 550.5 L327.9 553.5 L325.5 556.6 L324.0 560.2 L320.2 559.2 L318.3 557.3 L316.4 555.4 L314.2 557.0 L312.6 559.2 L310.3 561.8 L308.8 564.9 L304.9 566.8 L303.0 570.7 L302.1 573.5 L302.1 576.4 L297.3 578.3 L293.5 578.9 L289.7 579.3 L287.2 580.2 L284.6 580.9 L282.0 581.2 L279.3 582.5 L276.3 583.1 L275.1 585.7 L273.4 587.9 L272.8 590.7 L272.5 593.6 L275.1 595.9 L278.2 597.4 L279.3 600.4 L281.1 603.1 L282.6 606.0 L284.0 608.9 L287.5 611.5 L291.6 614.6 L293.4 616.6 L295.4 618.4 L297.0 621.4 L299.2 624.1 L300.3 627.0 L300.5 630.0 L299.5 634.5 L296.2 636.1 L293.0 638.0 L290.3 639.1 L288.0 641.0 L287.2 644.1 L287.0 647.3 L289.9 651.1 L288.2 653.4 L287.0 655.9 L285.1 658.3 L283.2 660.6 L281.6 663.7 L279.4 666.4 L276.4 667.0 L273.7 668.3 L269.8 670.2 L268.0 672.2 L266.0 674.0 L263.9 675.7 L262.2 677.8 L260.7 675.5 L258.4 674.0 L257.0 671.5 L255.8 669.0 L254.6 666.4 L253.7 663.6 L252.2 661.2 L250.7 658.7 L249.1 655.7 L247.8 652.5 L246.9 649.2 L245.9 646.1 L246.1 642.7 L245.0 639.6 L244.4 636.6 L243.1 633.9 L241.8 631.2 L241.2 628.2 L239.3 625.3 L235.5 624.4 L231.6 626.3 L229.4 629.0 L227.8 632.0 L224.8 632.4 L222.1 633.9 L218.3 633.7 L214.5 633.9 L210.6 633.6 L206.8 633.0 L203.6 632.6 L200.4 632.7 L197.3 632.0 L193.4 632.0 L189.6 631.0 L186.5 632.0 L183.9 633.9 L181.9 635.7 L180.1 637.7 L178.2 639.6 L175.3 641.2 L173.1 643.5 L170.5 645.4 L167.4 647.0 L164.8 649.2 L161.6 649.5 L158.5 650.8 L155.3 651.1 L152.9 652.6 L150.3 653.8 L147.6 654.9 L145.7 657.5 L143.4 659.7 L141.9 662.7 L140.5 665.7 L140.4 668.4 L139.9 671.0 L139.5 673.6 L140.9 676.5 L141.5 679.6 L143.1 681.9 L145.4 683.6 L143.4 687.6 L141.5 691.6 L139.5 695.5 L137.6 697.6 L135.5 699.5 L133.5 701.5 L130.4 703.4 L127.5 705.5 L125.2 707.2 L123.5 709.5 L121.6 711.6 L119.5 713.5 L115.6 715.5 L112.9 715.4 L110.3 716.2 L107.6 716.5 L104.3 716.8 L100.9 717.1 L97.6 717.5 L94.9 717.7 L92.3 716.9 L89.7 716.5 L86.9 716.2 L84.2 715.7 L81.7 714.5 L79.1 713.5 L76.3 713.5 L73.7 712.5 L70.7 712.5 L67.7 712.5 L64.8 712.3 L61.8 712.5 L57.8 715.5 L55.8 711.5 L53.8 707.5 L54.2 704.8 L54.3 702.1 L54.8 699.5 L55.8 696.5 L56.8 693.5 L56.4 690.5 L55.8 687.6 L52.8 688.6 L53.8 685.6 L56.0 683.8 L57.8 681.6 L56.9 678.7 L56.8 675.6 L55.4 672.6 L53.8 669.6 L52.1 666.8 L50.8 663.7 L48.6 661.4 L46.8 658.7 L44.5 656.0 L41.8 653.7 L38.9 652.2 L35.9 650.7 L31.9 648.7 L30.0 644.0 L29.0 639.3 L27.4 635.2 L29.0 630.3 L33.1 631.1 L35.5 627.8 L35.2 624.5 L34.7 621.3 L36.5 619.5 L41.3 617.6 L44.2 617.3 L47.0 616.5 L50.8 616.4 L54.4 615.5 L57.1 614.1 L59.8 612.9 L63.1 613.4 L66.4 613.6 L69.7 613.9 L74.7 613.9 L73.7 609.9 L71.7 607.9 L69.8 605.8 L67.7 603.9 L65.2 600.9 L62.8 597.9 L61.2 595.2 L59.4 592.6 L57.8 590.0 L56.2 586.7 L53.8 584.0 L51.0 582.5 L48.0 581.3 L46.8 578.5 L45.3 575.9 L43.2 573.7 L41.9 570.9 L40.3 568.4 L38.7 565.5 L36.7 563.0 L34.1 560.8 L32.5 558.0 L31.1 555.6 L30.5 552.9 L29.1 550.4 L28.6 547.7 L28.8 545.1 L29.0 542.4 L29.9 539.9 L28.1 537.2 L26.0 534.7 L24.3 531.9 L22.1 529.5 L22.1 526.9 L20.9 524.4 L20.8 521.8 L24.1 522.0 L27.3 521.8 L29.8 524.5 L32.5 526.9 L35.2 527.4 L37.6 529.0 L40.3 529.5 L43.0 529.6 L45.4 528.3 L48.0 528.2 L50.7 528.3 L53.2 527.2 L55.8 526.9 L58.4 525.6 L61.0 524.4 L63.6 524.7 L66.2 524.4 L68.8 523.8 L70.1 519.2 L68.5 516.8 L67.4 514.0 L66.2 511.4 L66.2 507.5 L66.2 503.6 L63.6 503.8 L61.0 503.6 L59.4 501.1 L58.4 498.4 L58.2 494.5 L58.4 490.7 L55.9 488.6 L53.2 486.8 L55.7 486.0 L58.4 486.2 L61.0 485.8 L63.6 485.5 L65.8 482.5 L68.8 480.3 L71.3 479.3 L74.0 478.7 L76.5 477.7 L79.1 476.4 L81.7 475.1 L82.6 472.3 L84.3 469.9 L87.2 468.4 L89.5 466.1 L90.5 462.9 L90.8 459.6 L90.4 456.8 L88.7 454.5 L88.2 451.8 L87.5 449.2 L86.8 446.7 L86.9 444.0 L84.4 442.5 L81.7 441.5 L82.3 438.8 L83.0 436.2 L84.3 433.7 L86.0 431.1 L88.1 428.8 L89.5 425.9 L91.1 423.8 L91.8 421.2 L93.3 419.0 L90.9 417.5 L89.0 415.5 L84.3 414.2 L81.5 412.9 L78.5 412.3 L75.5 411.5 L72.0 410.4 L68.4 409.7 L65.4 408.2 L63.0 406.0 L64.8 401.8 L67.2 398.8 L70.2 396.4 L72.7 395.4 L74.9 394.0 L77.3 392.9 L80.6 391.1 L84.3 390.2 L88.0 389.8 L91.4 388.5 L95.0 387.7 L98.5 386.7 L102.2 385.7 L105.6 384.0 L108.5 381.9 L111.8 380.5 L112.7 376.9 L111.8 374.1 L110.1 371.6 L108.3 369.2 L107.4 366.3 L106.4 363.5 L104.7 361.0 L103.5 358.7 L102.2 356.3 L101.2 353.9 L99.9 351.2 L98.5 348.5 L95.9 346.8 L100.3 346.8 L103.9 347.6 L107.4 350.3 L110.3 349.4 L112.7 347.6 L115.2 346.1 L118.0 345.0 L120.6 343.7 L123.4 343.2 L126.0 343.2 L128.7 343.2 L131.4 339.7 L131.5 337.0 L132.2 334.3 L134.9 329.9 L138.4 327.3 L142.0 324.6 L146.4 322.8 L148.9 321.1 L151.8 320.2 L155.3 316.6 L158.8 313.1 L162.4 311.3 L166.0 313.0 L168.2 314.5 L170.0 316.6 L172.3 317.9 L174.0 320.0 L178.0 321.5 L179.2 319.1 L181.0 317.0 L182.6 314.6 L184.5 312.5 L186.5 308.0 L184.6 305.6 L183.0 303.0 L183.0 299.5 L184.7 297.4 L186.0 295.0 L188.3 292.3 L191.0 290.0 L192.4 288.2 L194.8 287.0 L197.0 285.5 L199.5 284.7 L202.0 282.3 L204.8 280.2 L207.7 279.1 L210.7 278.7 L213.7 278.4 L217.1 276.6 L220.8 275.8 L223.5 275.1 L226.1 274.0 L229.6 274.1 L233.2 274.0 L236.8 277.6 L240.2 275.9 L243.9 274.9 L247.4 274.0 L251.0 273.1 L253.9 272.2 L256.3 270.5 L258.0 266.0 L259.5 263.5 L261.6 261.6 L264.4 260.6 L266.9 258.9 L269.6 254.5 L269.5 250.9 L269.6 247.4 L269.1 243.9 L268.7 240.3 L272.2 236.8 L273.9 234.3 L274.9 231.4 L277.0 229.6 L279.3 227.9 L282.9 230.6 L285.5 231.9 L288.2 233.2 L291.7 234.7 L295.3 235.9 L298.7 237.3 L302.4 237.7 L305.0 236.6 L307.7 235.9 L311.2 236.7 L314.8 236.8 L317.3 238.3 L320.1 239.4 L322.9 237.8 L325.5 235.9 L328.2 236.2 L330.8 236.8 L333.6 238.9 L336.1 241.2 L340.0 240.3 L342.0 237.5 L344.8 235.4 L347.2 233.8 L349.7 232.4 L352.5 231.6 L355.4 230.9 L358.2 229.7 L359.9 227.3 L361.7 225.0 L363.9 223.0 L364.9 219.9 L366.8 217.3 L367.6 214.0 L367.7 210.6 L371.6 208.7 L373.9 205.6 L375.4 202.0 L377.3 197.2 L381.1 195.3 L383.1 193.1 L384.9 190.6 L387.4 189.1 L389.9 187.7 L392.6 186.7 L395.5 186.6 L398.3 187.0 L401.1 185.2 L404.0 183.5 L405.7 181.4 L407.8 179.9 L409.8 178.1 L412.4 175.9 L415.6 173.8 L419.1 172.1 L422.0 172.1 L424.8 171.1 L428.6 169.2 L429.1 165.4 L430.5 164.4 L432.0 166.3 L434.4 168.7 L437.4 168.5 L440.1 167.3 L443.0 165.4 L446.8 165.4 L449.6 166.3 L450.6 164.4 L448.7 163.5 L445.8 161.6 L444.9 158.7 L446.8 153.9 L446.3 149.1Z" fill="none" stroke="#363636" stroke-width="1.9" stroke-linejoin="round"/>
<g font-family="Liberation Sans" font-size="7.6" fill="#7c7c7c">
<text x="447.8" y="106.2">Stamford</text>
<text x="559" y="175.5">Peterborough</text>
<text x="463" y="256.4">Oundle</text>
<text x="342" y="252">Corby</text>
<text x="303.8" y="324.9">Kettering &</text>
<text x="300" y="333.5">Burton Seagrave</text>
<text x="424" y="326.8">Thrapston</text>
<text x="439" y="335">& Islip</text>
<text x="313.4" y="420">Wellingborough</text>
<text x="404" y="417">Rushden &</text>
<text x="390.5" y="426">Higham Ferrers</text>
<text x="223.4" y="463">Northampton</text>
<text x="96" y="458.3">Daventry</text>
<text x="176.9" y="577.4">Towcester</text>
<text x="96.6" y="664.7">Brackley</text>
</g>
<g fill="none" stroke="#222" stroke-width="0.9" stroke-linejoin="miter">
<path d="M481.90 107.00 L482.84 109.51 L485.51 109.63 L483.42 111.29 L484.13 113.87 L481.90 112.40 L479.67 113.87 L480.38 111.29 L478.29 109.63 L480.96 109.51Z"/>
<path d="M370.50 421.00 L371.44 423.51 L374.11 423.63 L372.02 425.29 L372.73 427.87 L370.50 426.40 L368.27 427.87 L368.98 425.29 L366.89 423.63 L369.56 423.51Z"/>
<path d="M425.00 430.60 L425.94 433.11 L428.61 433.23 L426.52 434.89 L427.23 437.47 L425.00 436.00 L422.77 437.47 L423.48 434.89 L421.39 433.23 L424.06 433.11Z"/>
<path d="M270.00 464.20 L270.94 466.71 L273.61 466.83 L271.52 468.49 L272.23 471.07 L270.00 469.60 L267.77 471.07 L268.48 468.49 L266.39 466.83 L269.06 466.71Z"/>
<path d="M215.00 579.30 L215.94 581.81 L218.61 581.93 L216.52 583.59 L217.23 586.17 L215.00 584.70 L212.77 586.17 L213.48 583.59 L211.39 581.93 L214.06 581.81Z"/>
<path d="M128.50 666.80 L129.44 669.31 L132.11 669.43 L130.02 671.09 L130.73 673.67 L128.50 672.20 L126.27 673.67 L126.98 671.09 L124.89 669.43 L127.56 669.31Z"/>
<path d="M455.00 336.20 L455.94 338.71 L458.61 338.83 L456.52 340.49 L457.23 343.07 L455.00 341.60 L452.77 343.07 L453.48 340.49 L451.39 338.83 L454.06 338.71Z"/>
</g>
<g fill="#02c3f5">
<rect x="558" y="137" width="15" height="16"/>
<rect x="558" y="153" width="15" height="16"/>
<rect x="430" y="169" width="15" height="16"/>
<rect x="494" y="169" width="15" height="16"/>
<rect x="590" y="169" width="15" height="16"/>
<rect x="606" y="169" width="15" height="16"/>
<rect x="350" y="249" width="15" height="16"/>
<rect x="366" y="249" width="15" height="16"/>
<rect x="478" y="249" width="15" height="16"/>
<rect x="350" y="265" width="15" height="16"/>
<rect x="414" y="281" width="15" height="16"/>
<rect x="430" y="281" width="15" height="16"/>
<rect x="398" y="297" width="15" height="16"/>
<rect x="350" y="313" width="15" height="16"/>
<rect x="398" y="313" width="15" height="16"/>
<rect x="350" y="329" width="15" height="16"/>
<rect x="254" y="345" width="15" height="16"/>
<rect x="318" y="361" width="15" height="16"/>
<rect x="414" y="409" width="15" height="16"/>
<rect x="382" y="425" width="15" height="16"/>
<rect x="286" y="537" width="15" height="16"/>
<rect x="270" y="649" width="15" height="16"/>
</g>
<g fill="#ffff00">
<circle cx="469.5" cy="128.5" r="6.6"/>
<circle cx="565.5" cy="128.5" r="6.6"/>
<circle cx="469.5" cy="144.5" r="6.6"/>
<circle cx="485.5" cy="144.5" r="6.6"/>
<circle cx="549.5" cy="144.5" r="6.6"/>
<circle cx="597.5" cy="144.5" r="6.6"/>
<circle cx="469.5" cy="160.5" r="6.6"/>
<circle cx="565.5" cy="160.5" r="6.6"/>
<circle cx="581.5" cy="160.5" r="6.6"/>
<circle cx="437.5" cy="176.5" r="6.6"/>
<circle cx="453.5" cy="176.5" r="6.6"/>
<circle cx="485.5" cy="176.5" r="6.6"/>
<circle cx="597.5" cy="176.5" r="6.6"/>
<circle cx="613.5" cy="176.5" r="6.6"/>
<circle cx="437.5" cy="192.5" r="6.6"/>
<circle cx="453.5" cy="192.5" r="6.6"/>
<circle cx="421.5" cy="208.5" r="6.6"/>
<circle cx="485.5" cy="208.5" r="6.6"/>
<circle cx="533.5" cy="240.5" r="6.6"/>
<circle cx="453.5" cy="256.5" r="6.6"/>
<circle cx="293.5" cy="288.5" r="6.6"/>
<circle cx="389.5" cy="288.5" r="6.6"/>
<circle cx="421.5" cy="288.5" r="6.6"/>
<circle cx="341.5" cy="304.5" r="6.6"/>
<circle cx="197.5" cy="320.5" r="6.6"/>
<circle cx="357.5" cy="320.5" r="6.6"/>
<circle cx="245.5" cy="336.5" r="6.6"/>
<circle cx="389.5" cy="352.5" r="6.6"/>
<circle cx="229.5" cy="368.5" r="6.6"/>
<circle cx="293.5" cy="400.5" r="6.6"/>
<circle cx="261.5" cy="416.5" r="6.6"/>
<circle cx="309.5" cy="432.5" r="6.6"/>
<circle cx="373.5" cy="432.5" r="6.6"/>
<circle cx="389.5" cy="432.5" r="6.6"/>
<circle cx="245.5" cy="448.5" r="6.6"/>
<circle cx="293.5" cy="448.5" r="6.6"/>
<circle cx="117.5" cy="464.5" r="6.6"/>
<circle cx="261.5" cy="464.5" r="6.6"/>
<circle cx="277.5" cy="464.5" r="6.6"/>
<circle cx="389.5" cy="464.5" r="6.6"/>
<circle cx="341.5" cy="512.5" r="6.6"/>
<circle cx="373.5" cy="512.5" r="6.6"/>
<circle cx="341.5" cy="528.5" r="6.6"/>
<circle cx="357.5" cy="528.5" r="6.6"/>
<circle cx="293.5" cy="544.5" r="6.6"/>
<circle cx="309.5" cy="544.5" r="6.6"/>
<circle cx="325.5" cy="544.5" r="6.6"/>
<circle cx="341.5" cy="544.5" r="6.6"/>
<circle cx="293.5" cy="560.5" r="6.6"/>
<circle cx="309.5" cy="560.5" r="6.6"/>
<circle cx="101.5" cy="624.5" r="6.6"/>
<circle cx="181.5" cy="624.5" r="6.6"/>
</g>
<g fill="#f20000">
<path d="M559 127h13v4h-13zM564 122h3v13h-3z"/>
<path d="M543 143h13v4h-13zM548 138h3v13h-3z"/>
<path d="M591 143h13v4h-13zM596 138h3v13h-3z"/>
<path d="M463 159h13v4h-13zM468 154h3v13h-3z"/>
<path d="M543 159h13v4h-13zM548 154h3v13h-3z"/>
<path d="M559 159h13v4h-13zM564 154h3v13h-3z"/>
<path d="M623 159h13v4h-13zM628 154h3v13h-3z"/>
<path d="M431 175h13v4h-13zM436 170h3v13h-3z"/>
<path d="M447 175h13v4h-13zM452 170h3v13h-3z"/>
<path d="M591 175h13v4h-13zM596 170h3v13h-3z"/>
<path d="M607 175h13v4h-13zM612 170h3v13h-3z"/>
<path d="M399 191h13v4h-13zM404 186h3v13h-3z"/>
<path d="M495 191h13v4h-13zM500 186h3v13h-3z"/>
<path d="M399 207h13v4h-13zM404 202h3v13h-3z"/>
<path d="M479 207h13v4h-13zM484 202h3v13h-3z"/>
<path d="M463 239h13v4h-13zM468 234h3v13h-3z"/>
<path d="M527 239h13v4h-13zM532 234h3v13h-3z"/>
<path d="M447 255h13v4h-13zM452 250h3v13h-3z"/>
<path d="M479 255h13v4h-13zM484 250h3v13h-3z"/>
<path d="M415 271h13v4h-13zM420 266h3v13h-3z"/>
<path d="M527 271h13v4h-13zM532 266h3v13h-3z"/>
<path d="M335 287h13v4h-13zM340 282h3v13h-3z"/>
<path d="M383 287h13v4h-13zM388 282h3v13h-3z"/>
<path d="M415 287h13v4h-13zM420 282h3v13h-3z"/>
<path d="M431 287h13v4h-13zM436 282h3v13h-3z"/>
<path d="M351 303h13v4h-13zM356 298h3v13h-3z"/>
<path d="M399 303h13v4h-13zM404 298h3v13h-3z"/>
<path d="M191 319h13v4h-13zM196 314h3v13h-3z"/>
<path d="M303 319h13v4h-13zM308 314h3v13h-3z"/>
<path d="M351 319h13v4h-13zM356 314h3v13h-3z"/>
<path d="M383 319h13v4h-13zM388 314h3v13h-3z"/>
<path d="M399 319h13v4h-13zM404 314h3v13h-3z"/>
<path d="M239 335h13v4h-13zM244 330h3v13h-3z"/>
<path d="M447 335h13v4h-13zM452 330h3v13h-3z"/>
<path d="M463 335h13v4h-13zM468 330h3v13h-3z"/>
<path d="M255 383h13v4h-13zM260 378h3v13h-3z"/>
<path d="M111 399h13v4h-13zM116 394h3v13h-3z"/>
<path d="M287 399h13v4h-13zM292 394h3v13h-3z"/>
<path d="M303 399h13v4h-13zM308 394h3v13h-3z"/>
<path d="M191 415h13v4h-13zM196 410h3v13h-3z"/>
<path d="M271 415h13v4h-13zM276 410h3v13h-3z"/>
<path d="M367 431h13v4h-13zM372 426h3v13h-3z"/>
<path d="M383 431h13v4h-13zM388 426h3v13h-3z"/>
<path d="M287 447h13v4h-13zM292 442h3v13h-3z"/>
<path d="M319 447h13v4h-13zM324 442h3v13h-3z"/>
<path d="M383 447h13v4h-13zM388 442h3v13h-3z"/>
<path d="M223 463h13v4h-13zM228 458h3v13h-3z"/>
<path d="M255 463h13v4h-13zM260 458h3v13h-3z"/>
<path d="M271 463h13v4h-13zM276 458h3v13h-3z"/>
<path d="M335 463h13v4h-13zM340 458h3v13h-3z"/>
<path d="M79 479h13v4h-13zM84 474h3v13h-3z"/>
<path d="M207 479h13v4h-13zM212 474h3v13h-3z"/>
<path d="M239 479h13v4h-13zM244 474h3v13h-3z"/>
<path d="M319 479h13v4h-13zM324 474h3v13h-3z"/>
<path d="M111 495h13v4h-13zM116 490h3v13h-3z"/>
<path d="M175 495h13v4h-13zM180 490h3v13h-3z"/>
<path d="M255 495h13v4h-13zM260 490h3v13h-3z"/>
<path d="M319 511h13v4h-13zM324 506h3v13h-3z"/>
<path d="M335 511h13v4h-13zM340 506h3v13h-3z"/>
<path d="M143 527h13v4h-13zM148 522h3v13h-3z"/>
<path d="M335 527h13v4h-13zM340 522h3v13h-3z"/>
<path d="M175 543h13v4h-13zM180 538h3v13h-3z"/>
<path d="M303 543h13v4h-13zM308 538h3v13h-3z"/>
<path d="M319 543h13v4h-13zM324 538h3v13h-3z"/>
<path d="M191 559h13v4h-13zM196 554h3v13h-3z"/>
<path d="M287 559h13v4h-13zM292 554h3v13h-3z"/>
<path d="M303 559h13v4h-13zM308 554h3v13h-3z"/>
<path d="M175 607h13v4h-13zM180 602h3v13h-3z"/>
<path d="M271 607h13v4h-13zM276 602h3v13h-3z"/>
<path d="M95 623h13v4h-13zM100 618h3v13h-3z"/>
<path d="M111 623h13v4h-13zM116 618h3v13h-3z"/>
<path d="M175 623h13v4h-13zM180 618h3v13h-3z"/>
<path d="M63 639h13v4h-13zM68 634h3v13h-3z"/>
<path d="M79 639h13v4h-13zM84 634h3v13h-3z"/>
<path d="M95 639h13v4h-13zM100 634h3v13h-3z"/>
<path d="M143 639h13v4h-13zM148 634h3v13h-3z"/>
<path d="M159 639h13v4h-13zM164 634h3v13h-3z"/>
<path d="M175 639h13v4h-13zM180 634h3v13h-3z"/>
<path d="M191 639h13v4h-13zM196 634h3v13h-3z"/>
<path d="M271 639h13v4h-13zM276 634h3v13h-3z"/>
<path d="M127 655h13v4h-13zM132 650h3v13h-3z"/>
<path d="M95 671h13v4h-13zM100 666h3v13h-3z"/>
<path d="M127 687h13v4h-13zM132 682h3v13h-3z"/>
</g>
<g fill="none" stroke="#000">
<g stroke-width="1" stroke-dasharray="3 3">
<line x1="61.5" y1="34" x2="61.5" y2="725"/>
<line x1="141.5" y1="34" x2="141.5" y2="725"/>
<line x1="221.5" y1="34" x2="221.5" y2="725"/>
<line x1="301.5" y1="34" x2="301.5" y2="725"/>
<line x1="381.5" y1="34" x2="381.5" y2="725"/>
<line x1="541.5" y1="34" x2="541.5" y2="725"/>
<line x1="621.5" y1="34" x2="621.5" y2="725"/>
<line x1="5" y1="88.5" x2="675" y2="88.5"/>
<line x1="5" y1="248.5" x2="675" y2="248.5"/>
<line x1="5" y1="328.5" x2="675" y2="328.5"/>
<line x1="5" y1="408.5" x2="675" y2="408.5"/>
<line x1="5" y1="488.5" x2="675" y2="488.5"/>
<line x1="5" y1="568.5" x2="675" y2="568.5"/>
<line x1="5" y1="648.5" x2="675" y2="648.5"/>
</g><g stroke-width="2">
<line x1="462" y1="32" x2="462" y2="726"/><line x1="5" y1="169" x2="676" y2="169"/><rect x="5" y="32" width="671" height="694"/>
</g></g>
<g font-family="Liberation Serif" font-size="24" fill="#e00000">
<text x="12" y="56">SK</text><text x="464" y="56">TF</text><text x="11.5" y="673.5">SP</text><text x="468" y="672">TL</text>
</g>
<g font-family="Liberation Serif" font-size="20.5" fill="#000">
<text x="13.5" y="81.7">1</text>
<text x="13.5" y="161.7">0</text>
<text x="13.5" y="241.7">9</text>
<text x="13.5" y="321.7">8</text>
<text x="13.5" y="401.7">7</text>
<text x="13.5" y="481.7">6</text>
<text x="13.5" y="561.7">5</text>
<text x="13.5" y="641.7">4</text>
<text x="69" y="719">5</text>
<text x="149" y="719">6</text>
<text x="229" y="719">7</text>
<text x="309" y="719">8</text>
<text x="389" y="719">9</text>
<text x="469" y="719">0</text>
<text x="549" y="719">1</text>
<text x="629" y="719">2</text>
</g>
<rect x="689" y="79" width="13" height="13" fill="#02c3f5"/>
<circle cx="696.5" cy="115.5" r="6.5" fill="#ffff00"/>
<path fill="#f20000" d="M690 142.75h13v3.5h-13zM694.75 138h3.5v13h-3.5z"/>
</svg>
<div class="t" style="left:5px;top:0px;font-size:24px">70.081 Thera obeliscata (Grey Pine Carpet)</div>
<div class="t h" style="left:680px;top:33.5px">Key:</div>
<div class="t p" style="left:712px;top:74px">Records Prior to 1980</div>
<div class="t p" style="left:712px;top:104px">Records 1980 - 1999</div>
<div class="t p" style="left:712px;top:132px">Records Since 2000</div>
<div class="t h" style="left:683.5px;top:172.9px">Useful Data:</div>
<div class="t p" style="left:684px;top:212.8px;transform:scaleX(1.032)">First Recorded in 1900</div>
<div class="t p" style="left:684px;top:239.7px;transform:scaleX(1.03)">Last Recorded in 2024</div>
<div class="t p" style="left:684px;top:267.7px">1770 Records</div>
<div class="t p" style="left:684px;top:295.7px">Status: LC</div>
<div class="t h" style="left:684.5px;top:365.9px">Flight Period:</div>
<svg width="1130" height="733" viewBox="0 0 1130 733">
<g fill="none" stroke="#000" stroke-width="1" shape-rendering="crispEdges">
<rect x="684.5" y="408.5" width="438" height="318"/>
<line x1="684" y1="689.5" x2="1122" y2="689.5"/>
<line x1="720.5" y1="689" x2="720.5" y2="697"/>
<line x1="757.5" y1="689" x2="757.5" y2="697"/>
<line x1="793.5" y1="689" x2="793.5" y2="697"/>
<line x1="830.5" y1="689" x2="830.5" y2="697"/>
<line x1="866.5" y1="689" x2="866.5" y2="697"/>
<line x1="903.5" y1="689" x2="903.5" y2="697"/>
<line x1="939.5" y1="689" x2="939.5" y2="697"/>
<line x1="976.5" y1="689" x2="976.5" y2="697"/>
<line x1="1012.5" y1="689" x2="1012.5" y2="697"/>
<line x1="1049.5" y1="689" x2="1049.5" y2="697"/>
<line x1="1085.5" y1="689" x2="1085.5" y2="697"/>
<path d="M802.5 689.5V684.5H810.5V689.5 M810.5 689.5V684.5H819.5V689.5 M819.5 689.5V678.5H827.5V689.5 M827.5 689.5V644.5H836.5V689.5 M836.5 689.5V610.5H844.5V689.5 M844.5 689.5V551.5H852.5V689.5 M852.5 689.5V486.5H861.5V689.5 M861.5 689.5V452.5H869.5V689.5 M869.5 689.5V505.5H878.5V689.5 M878.5 689.5V518.5H886.5V689.5 M886.5 689.5V587.5H895.5V689.5 M895.5 689.5V619.5H903.5V689.5 M903.5 689.5V651.5H911.5V689.5 M911.5 689.5V646.5H920.5V689.5 M920.5 689.5V672.5H928.5V689.5 M928.5 689.5V678.5H937.5V689.5 M937.5 689.5V657.5H945.5V689.5 M945.5 689.5V680.5H954.5V689.5 M954.5 689.5V674.5H962.5V689.5 M962.5 689.5V665.5H970.5V689.5 M970.5 689.5V651.5H979.5V689.5 M979.5 689.5V594.5H987.5V689.5 M987.5 689.5V518.5H996.5V689.5 M996.5 689.5V448.5H1004.5V689.5 M1004.5 689.5V461.5H1013.5V689.5 M1013.5 689.5V479.5H1021.5V689.5 M1021.5 689.5V515.5H1029.5V689.5 M1029.5 689.5V543.5H1038.5V689.5 M1038.5 689.5V572.5H1046.5V689.5 M1046.5 689.5V617.5H1055.5V689.5 M1055.5 689.5V674.5H1063.5V689.5 M1063.5 689.5V670.5H1071.5V689.5 M1071.5 689.5V688.5H1080.5V689.5"/>
</g>
<g font-family="Liberation Mono" font-size="11.67" fill="#000" text-anchor="middle">
<text x="703.75" y="709">Jan</text>
<text x="740.25" y="709">Feb</text>
<text x="776.75" y="709">Mar</text>
<text x="813.25" y="709">Apr</text>
<text x="849.75" y="709">May</text>
<text x="886.25" y="709">Jun</text>
<text x="922.75" y="709">Jly</text>
<text x="959.25" y="709">Aug</text>
<text x="995.75" y="709">Sep</text>
<text x="1032.25" y="709">Oct</text>
<text x="1068.75" y="709">Nov</text>
<text x="1105.25" y="709">Dec</text>
</g>
<text x="692.8" y="425" font-family="Liberation Mono" font-size="11.67" fill="#000">Records max of 127 in week 38</text>
</svg>
</body></html>
